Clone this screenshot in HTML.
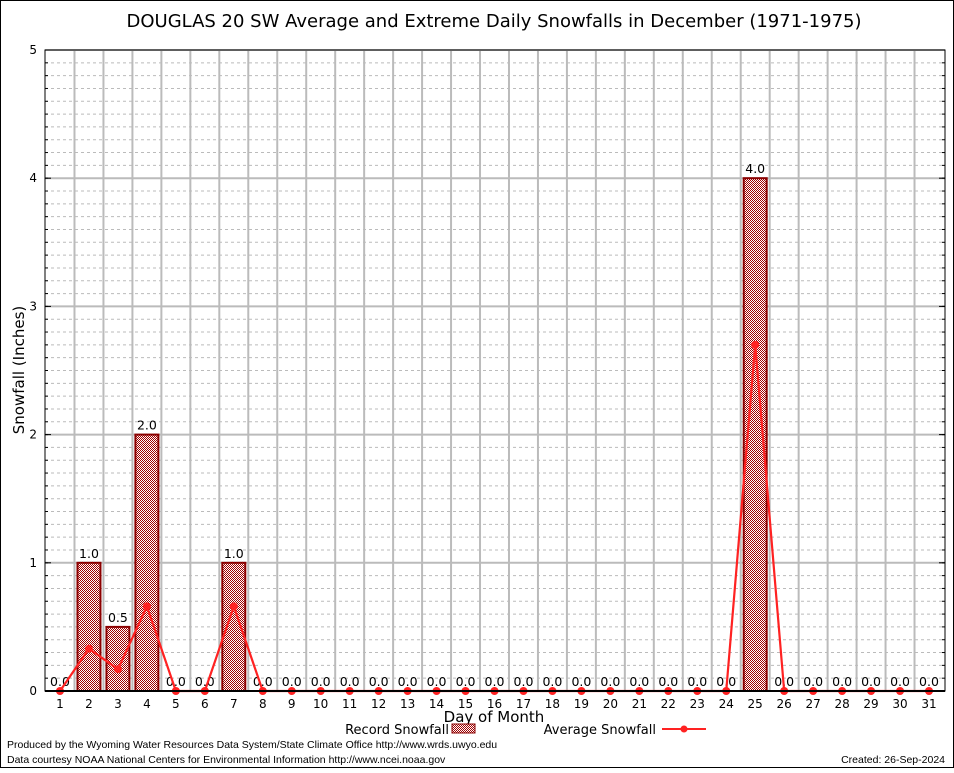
<!DOCTYPE html>
<html><head><meta charset="utf-8"><style>
body{margin:0;background:#fff;font-family:"Liberation Sans",sans-serif;}
svg text{font-family:"DejaVu Sans","Liberation Sans",sans-serif;}
</style></head><body>
<svg id="chart" width="954" height="768" xmlns="http://www.w3.org/2000/svg">
<defs>
<pattern id="chk" width="2" height="2" patternUnits="userSpaceOnUse">
<rect width="2" height="2" fill="#fff"/><rect width="1" height="1" fill="#a00000"/><rect x="1" y="1" width="1" height="1" fill="#a00000"/>
</pattern>
</defs>
<rect x="0.5" y="0.5" width="953" height="767" fill="#fff" stroke="#000"/>
<text x="494" y="27" text-anchor="middle" font-size="18">DOUGLAS 20 SW Average and Extreme Daily Snowfalls in December (1971-1975)</text>
<g id="grid"></g><g id="bars"></g><g id="line"></g><g id="axes"></g>
<text transform="translate(24,370) rotate(-90)" text-anchor="middle" font-size="15">Snowfall (Inches)</text>
<text x="494" y="722" text-anchor="middle" font-size="15">Day of Month</text>
<g>
<text x="449" y="734" text-anchor="end" font-size="13">Record Snowfall</text>
<rect x="452" y="724" width="23" height="9" fill="url(#chk)" stroke="#8b0000"/>
</g>
<g>
<text x="656" y="734" text-anchor="end" font-size="13">Average Snowfall</text>
<line x1="662" y1="729" x2="706" y2="729" stroke="#f22" stroke-width="2"/>
<circle cx="684" cy="729" r="3.5" fill="#f22"/>
</g>
<text x="7" y="748" font-size="10.5" style="font-family:'Liberation Sans',sans-serif">Produced by the Wyoming Water Resources Data System/State Climate Office http://www.wrds.uwyo.edu</text>
<text x="7" y="763" font-size="10.5" style="font-family:'Liberation Sans',sans-serif">Data courtesy NOAA National Centers for Environmental Information http://www.ncei.noaa.gov</text>
<text x="945" y="763" text-anchor="end" font-size="10.5" style="font-family:'Liberation Sans',sans-serif">Created: 26-Sep-2024</text>
</svg>
<script>
const days=[1,2,3,4,5,6,7,8,9,10,11,12,13,14,15,16,17,18,19,20,21,22,23,24,25,26,27,28,29,30,31];
const recordValues=[0,1,0.5,2,0,0,1,0,0,0,0,0,0,0,0,0,0,0,0,0,0,0,0,0,4,0,0,0,0,0,0];
const averageValues=[0,0.33,0.17,0.66,0,0,0.66,0,0,0,0,0,0,0,0,0,0,0,0,0,0,0,0,0,2.7,0,0,0,0,0,0];
const yTicks=[0,1,2,3,4,5];
const NS="http://www.w3.org/2000/svg";
const L=45,R=945,T=50,B=691;
const x=d=>60+(d-1)*(929-60)/30;
const y=v=>B-(v/5)*(B-T);
function mk(tag,attrs,parent,txt){const e=document.createElementNS(NS,tag);for(const k in attrs)e.setAttribute(k,attrs[k]);if(txt!==undefined)e.textContent=txt;document.getElementById(parent).appendChild(e);return e;}
for(let i=1;i<50;i++){const v=i/10;if(i%10===0)continue;
 const g=mk('line',{x1:L,x2:R,y1:y(v),y2:y(v),stroke:'#bbb','stroke-dasharray':'3,3'},'grid');
 
 }
yTicks.forEach(v=>{if(v===0)return;
 const g=mk('line',{x1:L,x2:R,y1:y(v),y2:y(v),stroke:'#bbb','stroke-width':2},'grid');
 
 });
days.forEach(d=>{if(d===31)return;
 const g=mk('line',{x1:x(d+0.5),x2:x(d+0.5),y1:T,y2:B,stroke:'#bbb','stroke-width':2},'grid');
 
 });
const bw=23;
days.forEach((d,i)=>{const v=recordValues[i];
 if(v>0){const r=mk('rect',{x:x(d)-bw/2,y:y(v),width:bw,height:y(0)-y(v),fill:'url(#chk)',stroke:'#8b0000','stroke-width':2},'bars');
 
 }
 const t=mk('text',{x:x(d),y:y(v)-5,'text-anchor':'middle','font-size':12.5},'bars',v.toFixed(1));
 
 });
const pl=mk('polyline',{points:days.map((d,i)=>x(d)+','+y(averageValues[i])).join(' '),fill:'none',stroke:'#f22','stroke-width':2.2},'line');


days.forEach((d,i)=>{const c=mk('circle',{cx:x(d),cy:y(averageValues[i]),r:4,fill:'#f22'},'line');
 
 });
const fr=mk('rect',{x:L,y:T,width:R-L,height:B-T,fill:'none',stroke:'#000','stroke-width':1},'axes');


const xa=mk('line',{x1:L,x2:R,y1:B,y2:B,stroke:'#000','stroke-width':2},'axes');


yTicks.forEach(v=>{const t=mk('text',{x:L-8,y:y(v)+4,'text-anchor':'end','font-size':12,'font-family':'Liberation Serif'},'axes',String(v));
 
 
 mk('line',{x1:L,x2:L+6,y1:y(v),y2:y(v),stroke:'#000'},'axes');mk('line',{x1:R-6,x2:R,y1:y(v),y2:y(v),stroke:'#000'},'axes');});
for(let i=1;i<50;i++){mk('line',{x1:L,x2:L+3,y1:y(i/10),y2:y(i/10),stroke:'#000'},'axes');mk('line',{x1:R-3,x2:R,y1:y(i/10),y2:y(i/10),stroke:'#000'},'axes');}
days.forEach(d=>{const t=mk('text',{x:x(d),y:708,'text-anchor':'middle','font-size':12,'font-family':'Liberation Serif'},'axes',String(d));
 
 });
</script>
</body></html>
